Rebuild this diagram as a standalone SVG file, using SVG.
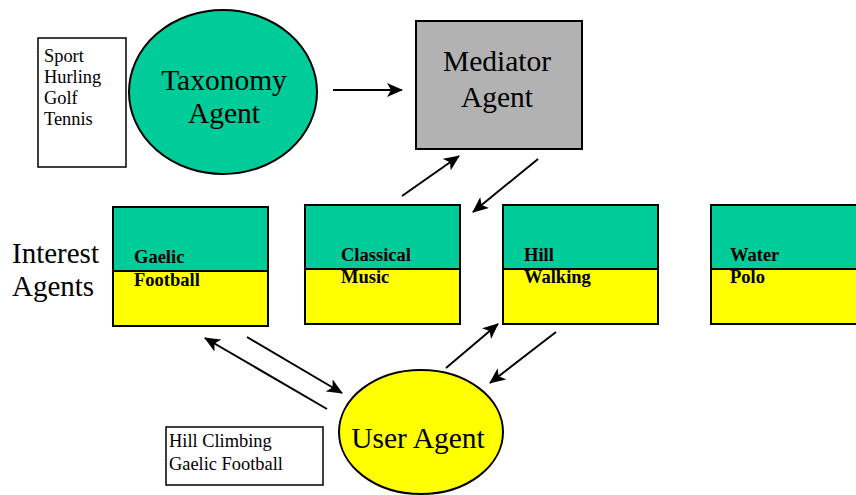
<svg xmlns="http://www.w3.org/2000/svg" width="856" height="495" viewBox="0 0 856 495">
<style>
.t{font-family:"Liberation Serif","Times New Roman",serif;fill:#000}
.big{font-size:29.5px}
.sm{font-size:18.4px}
.b{font-size:18.5px;font-weight:bold}
.box{stroke:#000;stroke-width:2}
.teal{fill:#00cc99}
.yel{fill:#ffff00}
.con line{stroke:#000;stroke-width:2;marker-end:url(#ah)}
</style>
<defs>
<marker id="ah" viewBox="0 0 16 14" markerWidth="16" markerHeight="14" refX="15" refY="7" orient="auto" markerUnits="userSpaceOnUse">
<path d="M0,0 L16,7 L0,14 L4,7 z" fill="#000"/>
</marker>
</defs>
<rect width="856" height="495" fill="#fff"/>

<g id="sport-list">
<rect x="38" y="38" width="88" height="129" fill="#fff" stroke="#000" stroke-width="1.5"/>
<text class="t sm" x="44" y="62">Sport</text>
<text class="t sm" x="44" y="83">Hurling</text>
<text class="t sm" x="44" y="104">Golf</text>
<text class="t sm" x="44" y="125">Tennis</text>
</g>

<g id="taxonomy-agent">
<ellipse cx="223" cy="92" rx="94" ry="82" class="box teal"/>
<text class="t big" x="224" y="90" text-anchor="middle">Taxonomy</text>
<text class="t big" x="224" y="123" text-anchor="middle">Agent</text>
</g>

<g id="mediator-agent">
<rect x="416" y="21" width="166" height="128" fill="#b2b2b2" stroke="#000" stroke-width="2"/>
<text class="t big" x="497" y="71" text-anchor="middle">Mediator</text>
<text class="t big" x="497" y="107" text-anchor="middle">Agent</text>
</g>

<g id="interest-label">
<text class="t" x="12" y="263" style="font-size:29px">Interest</text>
<text class="t" x="12" y="296" style="font-size:29px">Agents</text>
</g>

<g id="gaelic-football">
<rect x="113" y="207" width="155" height="64" class="teal"/>
<rect x="113" y="271" width="155" height="55" class="yel"/>
<rect x="113" y="207" width="155" height="119" fill="none" class="box"/>
<line x1="113" y1="271" x2="268" y2="271" stroke="#000" stroke-width="2"/>
<text class="t b" x="134" y="263">Gaelic</text>
<text class="t b" x="134" y="286">Football</text>
</g>

<g id="classical-music">
<rect x="305" y="205" width="155" height="64" class="teal"/>
<rect x="305" y="269" width="155" height="55" class="yel"/>
<rect x="305" y="205" width="155" height="119" fill="none" class="box"/>
<line x1="305" y1="269" x2="460" y2="269" stroke="#000" stroke-width="2"/>
<text class="t b" x="341" y="261">Classical</text>
<text class="t b" x="341" y="283">Music</text>
</g>

<g id="hill-walking">
<rect x="503" y="205" width="155" height="64" class="teal"/>
<rect x="503" y="269" width="155" height="55" class="yel"/>
<rect x="503" y="205" width="155" height="119" fill="none" class="box"/>
<line x1="503" y1="269" x2="658" y2="269" stroke="#000" stroke-width="2"/>
<text class="t b" x="524" y="261">Hill</text>
<text class="t b" x="524" y="283">Walking</text>
</g>

<g id="water-polo">
<rect x="711" y="205" width="155" height="64" class="teal"/>
<rect x="711" y="269" width="155" height="55" class="yel"/>
<rect x="711" y="205" width="155" height="119" fill="none" class="box"/>
<line x1="711" y1="269" x2="866" y2="269" stroke="#000" stroke-width="2"/>
<text class="t b" x="730" y="261">Water</text>
<text class="t b" x="730" y="283">Polo</text>
</g>

<g id="user-agent">
<ellipse cx="421" cy="432" rx="82" ry="62" class="box yel"/>
<text class="t big" x="418" y="448" text-anchor="middle">User Agent</text>
</g>

<g id="user-interests">
<rect x="166" y="427" width="157" height="58" fill="#fff" stroke="#000" stroke-width="1.5"/>
<text class="t sm" x="169" y="447">Hill Climbing</text>
<text class="t sm" x="169" y="470">Gaelic Football</text>
</g>

<g id="connectors" class="con">
<line x1="333" y1="90" x2="402" y2="90"/>
<line x1="402" y1="196" x2="459" y2="156"/>
<line x1="538" y1="159" x2="473" y2="212"/>
<line x1="327" y1="409" x2="205" y2="338"/>
<line x1="247" y1="337" x2="342" y2="393"/>
<line x1="446" y1="368" x2="498" y2="324"/>
<line x1="556" y1="332" x2="490" y2="383"/>
</g>
</svg>
